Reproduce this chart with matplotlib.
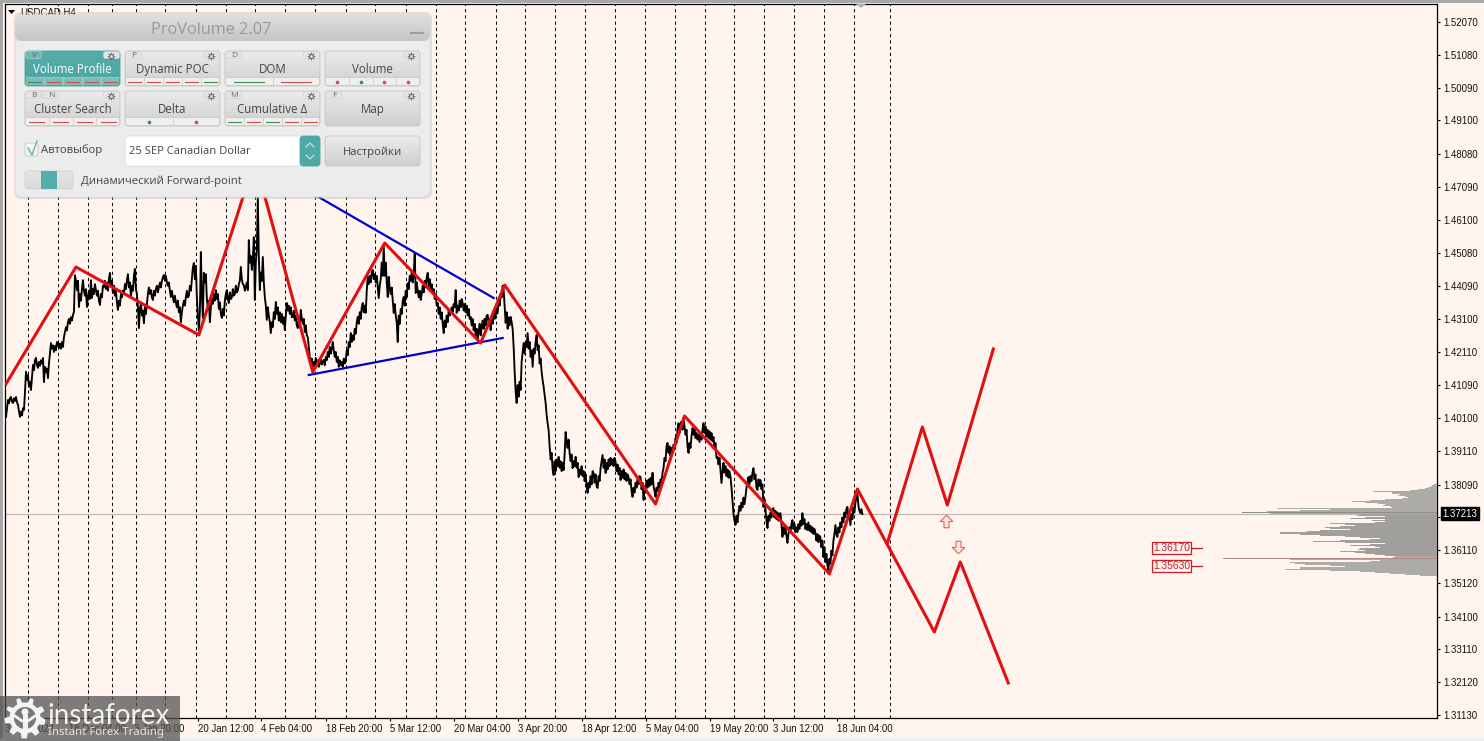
import numpy as np
import matplotlib
matplotlib.use("Agg")
import matplotlib.pyplot as plt
from matplotlib.patches import FancyBboxPatch, Rectangle, Polygon, Circle
from matplotlib.colors import LinearSegmentedColormap

# bar numbers run with the screen, one bar for each pixel
close_points = [(5,1.4014),(6,1.4040),(7,1.4065),(8,1.4055),(9,1.4070),(10,1.4074),(11,1.4060),(12,1.4056),(13,1.4070),(14,1.4062),(15,1.4074),(16,1.4058),(17,1.4050),(18,1.4030),(19,1.4014),(20,1.4030),(21,1.4018),(22,1.4040),(23,1.4035),(24,1.4089),(25,1.4150),(26,1.4125),(27,1.4140),(28,1.4105),(29,1.4120),(30,1.4095),
(31,1.4135),(32,1.4171),(33,1.4155),(34,1.4185),(35,1.4192),(36,1.4170),(37,1.4162),(38,1.4180),(39,1.4168),(40,1.4185),(41,1.4175),(42,1.4192),(43,1.4119),(44,1.4165),(45,1.4150),(46,1.4160),(47,1.4131),(48,1.4175),(49,1.4205),(50,1.4237),(51,1.4220),(52,1.4230),(53,1.4210),(54,1.4228),(55,1.4215),(56,1.4240),(57,1.4237),(58,1.4222),(59,1.4235),(60,1.4220),
(61,1.4240),(62,1.4225),(63,1.4255),(64,1.4270),(65,1.4285),(66,1.4275),(67,1.4300),(68,1.4310),(69,1.4295),(70,1.4315),(71,1.4305),(72,1.4322),(73,1.4331),(74,1.4442),(75,1.4425),(76,1.4397),(77,1.4425),(78,1.4346),(79,1.4385),(80,1.4365),(81,1.4400),(82,1.4427),(83,1.4395),(84,1.4380),(85,1.4400),(86,1.4346),(87,1.4375),(88,1.4395),(89,1.4370),(90,1.4427),
(91,1.4373),(92,1.4400),(93,1.4385),(94,1.4415),(95,1.4397),(96,1.4380),(97,1.4395),(98,1.4365),(99,1.4352),(100,1.4385),(101,1.4375),(102,1.4410),(103,1.4406),(104,1.4425),(105,1.4400),(106,1.4420),(107,1.4395),(108,1.4430),(109,1.4449),(110,1.4410),(111,1.4425),(112,1.4388),(113,1.4410),(114,1.4380),(115,1.4395),(116,1.4360),(117,1.4337),(118,1.4365),(119,1.4350),(120,1.4385),
(121,1.4375),(122,1.4395),(123,1.4385),(124,1.4415),(125,1.4400),(126,1.4427),(127,1.4445),(128,1.4405),(129,1.4420),(130,1.4376),(131,1.4410),(132,1.4395),(133,1.4440),(134,1.4461),(135,1.4400),(136,1.4385),(137,1.4345),(138,1.4282),(139,1.4340),(140,1.4358),(141,1.4320),(142,1.4335),(143,1.4297),(144,1.4345),(145,1.4325),(146,1.4355),(147,1.4385),(148,1.4405),(149,1.4385),(150,1.4397),
(151,1.4375),(152,1.4367),(153,1.4395),(154,1.4380),(155,1.4400),(156,1.4410),(157,1.4390),(158,1.4405),(159,1.4420),(160,1.4405),(161,1.4425),(162,1.4435),(163,1.4443),(164,1.4425),(165,1.4440),(166,1.4420),(167,1.4410),(168,1.4420),(169,1.4395),(170,1.4376),(171,1.4395),(172,1.4375),(173,1.4360),(174,1.4380),(175,1.4360),(176,1.4345),(177,1.4365),(178,1.4330),(179,1.4345),(180,1.4300),
(181,1.4330),(182,1.4350),(183,1.4365),(184,1.4350),(185,1.4376),(186,1.4395),(187,1.4375),(188,1.4380),(189,1.4410),(190,1.4395),(191,1.4430),(192,1.4465),(193,1.4479),(194,1.4430),(195,1.4470),(196,1.4376),(197,1.4320),(198,1.4276),(199,1.4330),(200,1.4512),(201,1.4380),(202,1.4313),(203,1.4449),(204,1.4420),(205,1.4445),(206,1.4370),(207,1.4340),(208,1.4365),(209,1.4300),(210,1.4345),
(211,1.4370),(212,1.4355),(213,1.4385),(214,1.4365),(215,1.4397),(216,1.4370),(217,1.4385),(218,1.4340),(219,1.4360),(220,1.4325),(221,1.4313),(222,1.4340),(223,1.4320),(224,1.4365),(225,1.4385),(226,1.4397),(227,1.4370),(228,1.4358),(229,1.4390),(230,1.4370),(231,1.4375),(232,1.4400),(233,1.4380),(234,1.4385),(235,1.4410),(236,1.4390),(237,1.4395),(238,1.4415),(239,1.4425),(240,1.4467),
(241,1.4430),(242,1.4415),(243,1.4412),(244,1.4395),(245,1.4405),(246,1.4420),(247,1.4397),(248,1.4548),(249,1.4480),(250,1.4500),(251,1.4458),(252,1.4490),(253,1.4557),(254,1.4367),(255,1.4480),(256,1.4518),(257,1.4678),(258,1.4500),(259,1.4397),(260,1.4450),(261,1.4425),(262,1.4497),(263,1.4420),(264,1.4376),(265,1.4350),(266,1.4307),(267,1.4345),(268,1.4320),(269,1.4300),(270,1.4267),
(271,1.4300),(272,1.4285),(273,1.4330),(274,1.4310),(275,1.4361),(276,1.4325),(277,1.4345),(278,1.4305),(279,1.4330),(280,1.4300),(281,1.4325),(282,1.4295),(283,1.4315),(284,1.4276),(285,1.4320),(286,1.4358),(287,1.4335),(288,1.4350),(289,1.4325),(290,1.4345),(291,1.4315),(292,1.4316),(293,1.4335),(294,1.4305),(295,1.4320),(296,1.4290),(297,1.4282),(298,1.4310),(299,1.4295),(300,1.4337),
(301,1.4310),(302,1.4295),(303,1.4310),(304,1.4270),(305,1.4290),(306,1.4260),(307,1.4255),(308,1.4225),(309,1.4195),(310,1.4175),(311,1.4190),(312,1.4165),(313,1.4180),(314,1.4170),(315,1.4192),(316,1.4170),(317,1.4185),(318,1.4165),(319,1.4175),(320,1.4190),(321,1.4172),(322,1.4180),(323,1.4186),(324,1.4170),(325,1.4195),(326,1.4185),(327,1.4210),(328,1.4195),(329,1.4225),(330,1.4205),
(331,1.4220),(332,1.4240),(333,1.4215),(334,1.4195),(335,1.4210),(336,1.4180),(337,1.4195),(338,1.4165),(339,1.4185),(340,1.4170),(341,1.4180),(342,1.4165),(343,1.4190),(344,1.4175),(345,1.4186),(346,1.4215),(347,1.4200),(348,1.4240),(349,1.4225),(350,1.4267),(351,1.4240),(352,1.4260),(353,1.4246),(354,1.4280),(355,1.4265),(356,1.4300),(357,1.4316),(358,1.4295),(359,1.4330),(360,1.4310),
(361,1.4345),(362,1.4358),(363,1.4330),(364,1.4350),(365,1.4328),(366,1.4395),(367,1.4437),(368,1.4415),(369,1.4440),(370,1.4420),(371,1.4450),(372,1.4458),(373,1.4430),(374,1.4445),(375,1.4420),(376,1.4440),(377,1.4405),(378,1.4373),(379,1.4410),(380,1.4430),(381,1.4480),(382,1.4440),(383,1.4530),(384,1.4440),(385,1.4480),(386,1.4420),(387,1.4376),(388,1.4437),(389,1.4400),(390,1.4385),
(391,1.4405),(392,1.4365),(393,1.4328),(394,1.4355),(395,1.4320),(396,1.4300),(397,1.4240),(398,1.4320),(399,1.4295),(400,1.4340),(401,1.4325),(402,1.4365),(403,1.4376),(404,1.4350),(405,1.4395),(406,1.4375),(407,1.4418),(408,1.4400),(409,1.4440),(410,1.4425),(411,1.4450),(412,1.4420),(413,1.4445),(414,1.4509),(415,1.4388),(416,1.4420),(417,1.4395),(418,1.4375),(419,1.4395),(420,1.4367),
(421,1.4385),(422,1.4410),(423,1.4390),(424,1.4425),(425,1.4405),(426,1.4435),(427,1.4449),(428,1.4410),(429,1.4430),(430,1.4395),(431,1.4415),(432,1.4388),(433,1.4400),(434,1.4370),(435,1.4385),(436,1.4350),(437,1.4358),(438,1.4325),(439,1.4345),(440,1.4310),(441,1.4330),(442,1.4295),(443,1.4267),(444,1.4305),(445,1.4285),(446,1.4320),(447,1.4300),(448,1.4335),(449,1.4320),(450,1.4328),
(451,1.4345),(452,1.4330),(453,1.4355),(454,1.4345),(455,1.4397),(456,1.4328),(457,1.4350),(458,1.4335),(459,1.4365),(460,1.4345),(461,1.4370),(462,1.4358),(463,1.4335),(464,1.4355),(465,1.4330),(466,1.4350),(467,1.4320),(468,1.4340),(469,1.4310),(470,1.4316),(471,1.4290),(472,1.4310),(473,1.4275),(474,1.4295),(475,1.4260),(476,1.4280),(477,1.4246),(478,1.4275),(479,1.4295),(480,1.4260),
(481,1.4285),(482,1.4305),(483,1.4280),(484,1.4310),(485,1.4290),(486,1.4320),(487,1.4322),(488,1.4295),(489,1.4310),(490,1.4276),(491,1.4315),(492,1.4295),(493,1.4335),(494,1.4310),(495,1.4345),(496,1.4325),(497,1.4328),(498,1.4365),(499,1.4350),(500,1.4385),(501,1.4375),(502,1.4410),(503,1.4397),(504,1.4350),(505,1.4298),(506,1.4330),(507,1.4280),(508,1.4315),(509,1.4290),(510,1.4316),
(511,1.4300),(512,1.4280),(513,1.4225),(514,1.4150),(515,1.4090),(516,1.4056),(517,1.4110),(518,1.4075),(519,1.4120),(520,1.4095),(521,1.4180),(522,1.4210),(523,1.4237),(524,1.4205),(525,1.4240),(526,1.4225),(527,1.4267),(528,1.4220),(529,1.4240),(530,1.4195),(531,1.4215),(532,1.4165),(533,1.4220),(534,1.4205),(535,1.4240),(536,1.4261),(537,1.4215),(538,1.4230),(539,1.4175),(540,1.4190),
(541,1.4150),(542,1.4125),(543,1.4105),(544,1.4080),(545,1.4056),(546,1.4020),(547,1.3995),(548,1.3974),(549,1.3925),(550,1.3885),(551,1.3905),(552,1.3855),(553,1.3838),(554,1.3880),(555,1.3850),(556,1.3885),(557,1.3865),(558,1.3893),(559,1.3860),(560,1.3880),(561,1.3850),(562,1.3875),(563,1.3853),(564,1.3900),(565,1.3968),(566,1.3940),(567,1.3920),(568,1.3945),(569,1.3905),(570,1.3880),
(571,1.3900),(572,1.3859),(573,1.3880),(574,1.3865),(575,1.3893),(576,1.3860),(577,1.3875),(578,1.3832),(579,1.3855),(580,1.3840),(581,1.3865),(582,1.3835),(583,1.3850),(584,1.3820),(585,1.3840),(586,1.3805),(587,1.3784),(588,1.3815),(589,1.3800),(590,1.3835),(591,1.3810),(592,1.3850),(593,1.3844),(594,1.3815),(595,1.3840),(596,1.3805),(597,1.3799),(598,1.3835),(599,1.3820),(600,1.3860),
(601,1.3880),(602,1.3899),(603,1.3860),(604,1.3885),(605,1.3844),(606,1.3875),(607,1.3855),(608,1.3885),(609,1.3865),(610,1.3890),(611,1.3870),(612,1.3885),(613,1.3865),(614,1.3890),(615,1.3878),(616,1.3850),(617,1.3870),(618,1.3840),(619,1.3860),(620,1.3823),(621,1.3850),(622,1.3830),(623,1.3855),(624,1.3825),(625,1.3845),(626,1.3820),(627,1.3840),(628,1.3832),(629,1.3810),(630,1.3825),
(631,1.3790),(632,1.3772),(633,1.3800),(634,1.3785),(635,1.3815),(636,1.3800),(637,1.3825),(638,1.3810),(639,1.3835),(640,1.3832),(641,1.3795),(642,1.3815),(643,1.3763),(644,1.3805),(645,1.3790),(646,1.3820),(647,1.3800),(648,1.3825),(649,1.3805),(650,1.3830),(651,1.3810),(652,1.3845),(653,1.3805),(654,1.3790),(655,1.3772),(656,1.3800),(657,1.3790),(658,1.3815),(659,1.3800),(660,1.3825),
(661,1.3815),(662,1.3845),(663,1.3860),(664,1.3890),(665,1.3880),(666,1.3925),(667,1.3935),(668,1.3905),(669,1.3925),(670,1.3895),(671,1.3920),(672,1.3905),(673,1.3930),(674,1.3920),(675,1.3950),(676,1.3935),(677,1.3975),(678,1.3995),(679,1.3965),(680,1.3990),(681,1.4000),(682,1.3975),(683,1.4010),(684,1.3985),(685,1.3960),(686,1.3975),(687,1.3925),(688,1.3905),(689,1.3935),(690,1.3920),
(691,1.3955),(692,1.3980),(693,1.3960),(694,1.3975),(695,1.3950),(696,1.3965),(697,1.3945),(698,1.3960),(699,1.3938),(700,1.3960),(701,1.3945),(702,1.3975),(703,1.3995),(704,1.3965),(705,1.3985),(706,1.3955),(707,1.3975),(708,1.3950),(709,1.3970),(710,1.3945),(711,1.3965),(712,1.3940),(713,1.3953),(714,1.3920),(715,1.3935),(716,1.3890),(717,1.3893),(718,1.3870),(719,1.3890),(720,1.3850),
(721,1.3814),(722,1.3850),(723,1.3875),(724,1.3845),(725,1.3865),(726,1.3835),(727,1.3855),(728,1.3830),(729,1.3850),(730,1.3832),(731,1.3800),(732,1.3760),(733,1.3720),(734,1.3700),(735,1.3687),(736,1.3715),(737,1.3695),(738,1.3725),(739,1.3745),(740,1.3730),(741,1.3755),(742,1.3740),(743,1.3770),(744,1.3750),(745,1.3772),(746,1.3800),(747,1.3815),(748,1.3832),(749,1.3810),(750,1.3835),
(751,1.3820),(752,1.3845),(753,1.3859),(754,1.3825),(755,1.3840),(756,1.3800),(757,1.3793),(758,1.3825),(759,1.3805),(760,1.3823),(761,1.3795),(762,1.3810),(763,1.3742),(764,1.3765),(765,1.3735),(766,1.3700),(767,1.3678),(768,1.3715),(769,1.3700),(770,1.3725),(771,1.3710),(772,1.3735),(773,1.3738),(774,1.3710),(775,1.3730),(776,1.3705),(777,1.3725),(778,1.3700),(779,1.3720),(780,1.3723),
(781,1.3690),(782,1.3651),(783,1.3680),(784,1.3660),(785,1.3680),(786,1.3655),(787,1.3633),(788,1.3660),(789,1.3680),(790,1.3665),(791,1.3690),(792,1.3702),(793,1.3675),(794,1.3690),(795,1.3665),(796,1.3680),(797,1.3666),(798,1.3690),(799,1.3675),(800,1.3700),(801,1.3685),(802,1.3723),(803,1.3690),(804,1.3705),(805,1.3675),(806,1.3690),(807,1.3672),(808,1.3695),(809,1.3670),(810,1.3685),
(811,1.3665),(812,1.3680),(813,1.3660),(814,1.3675),(815,1.3663),(816,1.3640),(817,1.3660),(818,1.3635),(819,1.3655),(820,1.3648),(821,1.3620),(822,1.3640),(823,1.3590),(824,1.3620),(825,1.3575),(826,1.3600),(827,1.3565),(828,1.3551),(829,1.3585),(830,1.3570),(831,1.3610),(832,1.3595),(833,1.3640),(834,1.3660),(835,1.3687),(836,1.3660),(837,1.3651),(838,1.3680),(839,1.3665),(840,1.3695),
(841,1.3680),(842,1.3710),(843,1.3695),(844,1.3725),(845,1.3710),(846,1.3735),(847,1.3742),(848,1.3705),(849,1.3720),(850,1.3687),(851,1.3720),(852,1.3705),(853,1.3740),(854,1.3725),(855,1.3755),(856,1.3770),(857,1.3784),(858,1.3745),(859,1.3730),(860,1.3723),(861,1.3735),(862,1.3720)]

zigzag_bars = [5,75,198,254,312,384,480,504,655,684,829,857,934,960,1008]
zigzag_prices = [1.41132,1.44667,1.42613,1.47900,1.41495,1.45392,1.42371,1.44123,1.37506,1.40165,1.35391,1.37959,1.33638,1.35753,1.32097]
upper_bars = [887,922,947,993]
upper_prices = [1.36327,1.39833,1.37476,1.42189]
wedge_low_bars = [308,502]
wedge_low_prices = [1.41404,1.42522]
wedge_high_bars = [290,493]
wedge_high_prices = [1.47266,1.43730]

day_lines = [27,57,87,111,135,164,195,225,254,284,314,345,374,405,435,464,495,524,554,584,614,644,674,704,734,764,794,824,854,890]
time_bars = [3,67,132,196,259,324,388,452,516,580,644,708,772,836]
time_labels = ["3 Dec 2024","18 Dec 04:00","3 Jan 20:00","20 Jan 12:00","4 Feb 04:00","18 Feb 20:00","5 Mar 12:00",
               "20 Mar 04:00","3 Apr 20:00","18 Apr 12:00","5 May 04:00","19 May 20:00","3 Jun 12:00","18 Jun 04:00"]
price_ticks = [1.52070,1.51080,1.50090,1.49100,1.48080,1.47090,1.46100,1.45080,1.44090,1.43100,1.42110,
               1.41090,1.40100,1.39110,1.38090,1.37100,1.36110,1.35120,1.34100,1.33110,1.32120,1.31130]
last_price = 1.37213
level_prices = [1.36170,1.35630]
arrow_bars = [946,958]
arrow_prices = [1.36992,1.36207]

# volume profile, one row per price step from the top, left end of each row in bars
profile_top = 1.38110
profile_bottom = 1.35330
profile_end = 1437
profile_left = [1434,1432,1431,1428,1425,1418,1410,1373,1392,1392,1400,1398,1405,1408,1402,1385,1370,1352,1365,1378,1385,1383,1390,1392,
                1278,1330,1300,1267,1242,1270,1360,1357,1385,1365,1350,1385,1372,1385,1375,1330,1345,1355,1340,1325,1330,1350,1320,1307,
                1280,1280,1300,1320,1345,1360,1380,1370,1340,1313,1345,1385,1370,1350,1375,1380,1360,1358,1365,1340,1355,1365,1375,1385,
                1395,1393,1223,1290,1380,1370,1290,1295,1305,1330,1345,1300,1300,1285,1330,1360,1375,1390,1405,1420,1437]

BG = "#FFF5EE"
RED = "#E01010"
TICK_FONT = "Liberation Sans"

close_bars, close_prices = zip(*close_points)

fig = plt.figure(figsize=(14.84, 7.41), dpi=100, facecolor=BG)
ax = fig.add_axes([5/1484, 23/741, 1432/1484, 714/741], facecolor=BG)
ax.set_xlim(5, 1437)
ax.set_ylim(1.52735 - 0.000302164*718, 1.52735 - 0.000302164*4)

ax.vlines(day_lines, ax.get_ylim()[0], ax.get_ylim()[1], colors="k", linestyles=(0, (3, 3)), linewidth=0.75, zorder=1)
ax.axhline(last_price, color="#BDB9B5", linewidth=0.9, zorder=2)

# profile
rows = len(profile_left)
levels = np.linspace(profile_top, profile_bottom, rows)
step = abs(levels[1] - levels[0])
widths = [profile_end - v for v in profile_left]
colors = []
for i in range(rows):
    if i == 74:
        colors.append("#B58780")
    elif i == 28:
        colors.append("#8E8C89")
    elif 30 <= i < 72:
        colors.append("#A19F9C")
    else:
        colors.append("#ADABA7")
ax.barh(levels, widths, height=step, left=profile_left, color=colors, linewidth=0, zorder=3)

ax.plot(close_bars, close_prices, color="k", linewidth=1.35, zorder=4)
ax.plot(wedge_low_bars, wedge_low_prices, color="#0000C8", linewidth=1.6, zorder=5)
ax.plot(wedge_high_bars, wedge_high_prices, color="#0000C8", linewidth=1.6, zorder=5)
ax.plot(zigzag_bars, zigzag_prices, color=RED, linewidth=2.2, zorder=6)
ax.plot(upper_bars, upper_prices, color=RED, linewidth=2.2, zorder=6)

up_arrow = [(-2,-5),(2,-5),(2,0),(5,0),(0,5),(-5,0),(-2,0),(-2,-5)]
ax.plot(arrow_bars[0], arrow_prices[0], marker=up_arrow, markersize=9, markerfacecolor="#FFE8E0", markeredgecolor="#E8605A", markeredgewidth=0.8, zorder=6)
down_arrow = [(x, -y) for x, y in up_arrow]
ax.plot(arrow_bars[1], arrow_prices[1], marker=down_arrow, markersize=9, markerfacecolor="#FFE8E0", markeredgecolor="#E8605A", markeredgewidth=0.8, zorder=6)

for p in level_prices:
    ax.plot([1192, 1202], [p, p], color="#C8202A", linewidth=0.9, zorder=6)
    ax.text(1171.5, p, "%.5f" % p, ha="center", va="center", fontsize=7.4, family=TICK_FONT, color="#C8202A", zorder=6,
            bbox=dict(boxstyle="square,pad=0.12", facecolor=BG, edgecolor="#C8202A", linewidth=0.9))

ax.yaxis.tick_right()
ax.set_yticks(price_ticks)
ax.set_yticklabels(["%.5f" % v for v in price_ticks], fontsize=6.9, family=TICK_FONT)
ax.set_xticks([t + 1 for t in time_bars])
ax.set_xticklabels(time_labels, fontsize=6.9, family=TICK_FONT, ha="left")
ax.tick_params(axis="both", length=2.5, width=0.8, pad=2.2, color="k", labelcolor="#111111")
ax.tick_params(axis="x", pad=1.5)
for s in ax.spines.values():
    s.set_linewidth(0.9)

ax.annotate("1.37213", xy=(1.0, last_price), xycoords=ax.get_yaxis_transform(), xytext=(4, 0), textcoords="offset points",
            ha="left", va="center", fontsize=6.9, family=TICK_FONT, color="white", annotation_clip=False, zorder=20,
            bbox=dict(boxstyle="square,pad=0.15", facecolor="k", edgecolor="k"))

# screen furniture drawn in pixels
ui = fig.add_axes([0, 0, 1, 1], facecolor="none")
ui.set_xlim(0, 1484)
ui.set_ylim(741, 0)
ui.set_autoscale_on(False)
ui.axis("off")

PANEL = "Open Sans"


def grad_box(x0, y0, x1, y1, top, bottom, r=3, edge="#C4C4C4", z=3):
    patch = FancyBboxPatch((x0 + r, y0 + r), x1 - x0 - 2*r, y1 - y0 - 2*r, boxstyle="round,pad=%g,rounding_size=%g" % (r, r),
                           facecolor="none", edgecolor=edge, linewidth=0.6, zorder=z + 0.1)
    ui.add_patch(patch)
    cmap = LinearSegmentedColormap.from_list("g", [top, bottom])
    im = ui.imshow(np.linspace(0, 1, 32)[:, None], extent=(x0, x1, y1, y0), cmap=cmap, aspect="auto", zorder=z)
    im.set_clip_path(patch)
    return patch


def gear(x, y):
    ui.plot(x, y, marker=(8, 1, 0), markersize=6.5, color="#6E6E6E", markeredgewidth=0, zorder=6)
    ui.plot(x, y, marker="o", markersize=2, color="#E4E4E4", markeredgewidth=0, zorder=6.1)


def button(x0, y0, label, key, indic, kind="dash", active=False):
    x1, y1 = x0 + 95, y0 + 35
    if active:
        grad_box(x0, y0, x1, y1, "#55ADAA", "#4BA5A2", edge="#4BA5A2")
    else:
        grad_box(x0, y0, x1, y1, "#EBEBEB", "#CFCFCF")
    ty = y0 + 18.5
    if indic:
        ui.add_patch(Rectangle((x0 + 1, y0 + 26), 93, 8, facecolor="#D4EAE8" if active else "#EFEFEF", alpha=0.35 if active else 1,
                               linewidth=0, zorder=4))
        ui.plot([x0 + 1, x1 - 1], [y0 + 26, y0 + 26], color="#BEBEBE", linewidth=0.5, zorder=4)
        n = len(indic)
        w = 95 / n
        for i, c in enumerate(indic):
            col = "#3C8A50" if c == "g" else "#C8504A"
            cx = x0 + w*(i + 0.5)
            if i > 0:
                ui.plot([x0 + w*i, x0 + w*i], [y0 + 26, y0 + 34], color="#C8C8C8", linewidth=0.5, zorder=4)
            if kind == "dash":
                half = w*0.32
                ui.plot([cx - half, cx + half], [y0 + 31, y0 + 31], color=col, linewidth=0.8, zorder=5)
            else:
                ui.plot(cx, y0 + 31, "o", color=col, markersize=2.6, markeredgewidth=0, zorder=5)
    ui.text((x0 + x1)/2, ty, label, ha="center", va="center", fontsize=8.3, family=PANEL, color="white" if active else "#444444", zorder=6)
    # key tabs and settings gear
    kx = x0
    for k in key:
        ui.add_patch(FancyBboxPatch((kx + 1, y0 + 1), 15, 6, boxstyle="round,pad=0.5,rounding_size=2", facecolor="#E4E4E4" if not active else "#6DB9B6",
                                    edgecolor="#CCCCCC", linewidth=0.4, zorder=5))
        ui.text(kx + 9, y0 + 4.5, k, ha="center", va="center", fontsize=6, family=PANEL, color="#666666", zorder=6)
        kx += 17
    ui.add_patch(FancyBboxPatch((x1 - 16, y0 + 1), 15, 6, boxstyle="round,pad=0.5,rounding_size=2", facecolor="#E4E4E4",
                                edgecolor="#CCCCCC", linewidth=0.4, zorder=5))
    gear(x1 - 9, y0 + 4.5)


# left and top frame
ui.add_patch(Rectangle((0, 0), 1484, 3, facecolor="#A8A8A8", linewidth=0, zorder=1))
ui.add_patch(Rectangle((0, 0), 3, 741, facecolor="#A8A8A8", linewidth=0, zorder=1))
ui.add_patch(Rectangle((0, 738), 1484, 3, facecolor="#EFEFEF", linewidth=0, zorder=1))
ui.text(20, 12.5, "USDCAD,H4", fontsize=6.9, family=TICK_FONT, va="center", color="#111111", zorder=1)
ui.add_patch(Polygon([(8, 10), (15, 10), (11.5, 14)], facecolor="k", linewidth=0, zorder=1))
ui.add_patch(Polygon([(856, 4), (866, 4), (861, 8)], facecolor="#B0B0B0", linewidth=0, zorder=1))

# panel
ui.add_patch(FancyBboxPatch((14, 12), 418, 187, boxstyle="round,pad=0,rounding_size=8", facecolor="#B8B0A8", alpha=0.35, linewidth=0, zorder=2))
body = grad_box(15, 15, 430, 197, "#ECECEC", "#ECECEC", r=7, edge="#DDDDDD", z=2)
title = FancyBboxPatch((15, 15), 415, 26, boxstyle="round,pad=0,rounding_size=7", facecolor="none", edgecolor="none")
ui.add_patch(title)
im = ui.imshow(np.linspace(0, 1, 32)[:, None], extent=(15, 430, 41, 15), aspect="auto", zorder=2.5,
               cmap=LinearSegmentedColormap.from_list("t", ["#DEDEDE", "#C6C6C6"]))
im.set_clip_path(title)
ui.text(211, 30, "ProVolume 2.07", ha="center", va="center", fontsize=11.7, family=PANEL, color="#999999", zorder=3)
ui.plot([411, 423], [33, 33], color="#A0A0A0", linewidth=1.5, zorder=3)

button(25, 51, "Volume Profile", ["V"], "grrrr", active=True)
button(125, 51, "Dynamic POC", ["P"], "rrrrg")
button(225, 51, "DOM", ["D"], "gr")
button(325, 51, "Volume", [], "rgrr", kind="dot")
button(25, 91, "Cluster Search", ["B", "N"], "rrrr")
button(125, 91, "Delta", [], "gr", kind="dot")
button(225, 91, "Cumulative Δ", ["M"], "grgrr")
button(325, 91, "Map", ["F"], "")

# combo, settings, checkbox, toggle
grad_box(125, 136, 320, 166, "#FFFFFF", "#FFFFFF", r=4, edge="#DADADA")
grad_box(300, 136, 320, 166, "#4FA9A6", "#4FA9A6", r=3, edge="#4FA9A6", z=3.5)
ui.plot([306, 310, 314], [147, 143, 147], color="#CFE8E6", linewidth=0.8, zorder=5)
ui.plot([306, 310, 314], [155, 159, 155], color="#CFE8E6", linewidth=0.8, zorder=5)
ui.text(129, 152, "25 SEP Canadian Dollar", ha="left", va="center", fontsize=8.1, family=PANEL, color="#444444", zorder=6)
grad_box(325, 136, 420, 166, "#EBEBEB", "#CFCFCF")
ui.text(372.5, 152, "Настройки", ha="center", va="center", fontsize=8.1, family=PANEL, color="#444444", zorder=6)
grad_box(25, 143, 38, 156, "#F8F8F8", "#F0F0F0", r=2, edge="#C8C8C8")
ui.plot([28, 32, 37], [148, 155, 141], color="#5FB5B0", linewidth=1, zorder=6)
ui.text(41, 150, "Автовыбор", ha="left", va="center", fontsize=8.1, family=PANEL, color="#444444", zorder=6)
grad_box(25, 171, 73, 189, "#E4E4E4", "#DADADA", r=3, edge="#D0D0D0")
ui.add_patch(Rectangle((41, 171), 16, 18, facecolor="#55ADAA", linewidth=0, zorder=4))
ui.text(81, 181, "Динамический Forward-point", ha="left", va="center", fontsize=8.1, family=PANEL, color="#444444", zorder=6)

# instaforex mark
ui.add_patch(Rectangle((0, 696), 180, 44.5, facecolor="#545250", alpha=0.75, linewidth=0, zorder=10))
ang = np.linspace(0, 2*np.pi, 72, endpoint=False)
rad = 18 + 2.5*np.sign(np.sin(9*ang))
ui.add_patch(Polygon(np.c_[25 + rad*np.cos(ang), 718 + rad*np.sin(ang)], facecolor="#F4F4F4", linewidth=0, zorder=11))
ui.add_patch(Circle((25, 718), 11, facecolor="#7A7876", linewidth=0, zorder=12))
ui.add_patch(Circle((25, 712), 3.5, facecolor="#F4F4F4", linewidth=0, zorder=13))
ui.add_patch(Rectangle((22.5, 715), 5, 14, facecolor="#F4F4F4", linewidth=0, zorder=13))
ui.plot([15, 22, 28, 35], [716, 721, 721, 716], color="#F4F4F4", linewidth=2, zorder=13)
ui.text(47, 716, "instaforex", ha="left", va="center", fontsize=20, family="Lato", color="#F2F2F2", zorder=14)
ui.text(48, 733, "Instant Forex Trading", ha="left", va="center", fontsize=8.2, family="Noto Sans", color="#E6E6E6", zorder=14)

fig.savefig("out.png", dpi=100, facecolor=BG)
